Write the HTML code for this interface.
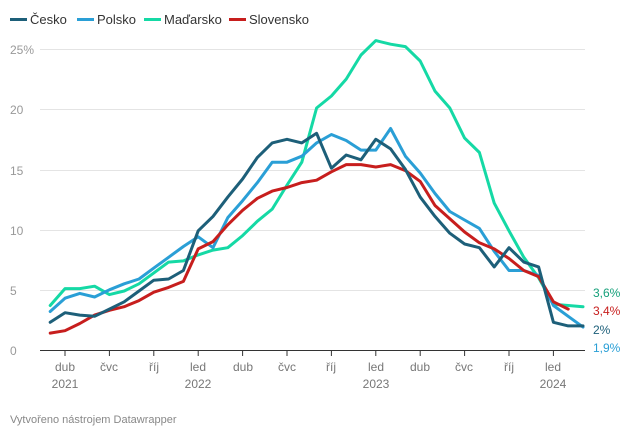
<!DOCTYPE html>
<html><head><meta charset="utf-8"><style>
body{margin:0;background:#fff;width:640px;height:437px;overflow:hidden;font-family:"Liberation Sans",sans-serif}
</style></head><body>
<svg id="s" width="640" height="437" xmlns="http://www.w3.org/2000/svg" font-family="Liberation Sans, sans-serif">
<g font-size="13" fill="#333">
<rect x="10" y="18" width="17" height="3" fill="#1d5f79"/><text x="30" y="24">Česko</text>
<rect x="77" y="18" width="17" height="3" fill="#2a9fd6"/><text x="97" y="24">Polsko</text>
<rect x="144" y="18" width="17" height="3" fill="#15d9a5"/><text x="164" y="24">Maďarsko</text>
<rect x="229" y="18" width="17" height="3" fill="#c71e1d"/><text x="249" y="24">Slovensko</text>
</g>
<g stroke="#e4e4e4" stroke-width="1">
<line x1="40" x2="585" y1="49.5" y2="49.5"/><line x1="40" x2="585" y1="109.5" y2="109.5"/>
<line x1="40" x2="585" y1="170.5" y2="170.5"/><line x1="40" x2="585" y1="230.5" y2="230.5"/>
<line x1="40" x2="585" y1="290.5" y2="290.5"/>
</g>
<g font-size="12" fill="#999">
<text x="10" y="54">25%</text><text x="10" y="114">20</text><text x="10" y="175">15</text>
<text x="10" y="235">10</text><text x="10" y="295">5</text><text x="10" y="355">0</text>
</g>
<line x1="40" x2="585" y1="350.5" y2="350.5" stroke="#333" stroke-width="1"/>
<g id="ticks" stroke="#333"></g>
<g font-size="12" fill="#777" text-anchor="middle">
<text x="65" y="371">dub</text><text x="65" y="388">2021</text>
<text x="109" y="371">čvc</text><text x="154" y="371">říj</text>
<text x="198" y="371">led</text><text x="198" y="388">2022</text>
<text x="243" y="371">dub</text><text x="287" y="371">čvc</text><text x="331" y="371">říj</text>
<text x="376" y="371">led</text><text x="376" y="388">2023</text>
<text x="420" y="371">dub</text><text x="464" y="371">čvc</text><text x="509" y="371">říj</text>
<text x="553" y="371">led</text><text x="553" y="388">2024</text>
</g>
<g id="lines" fill="none" stroke-width="3" stroke-linejoin="round" stroke-linecap="round"></g>
<g font-size="12">
<text x="593" y="297" fill="#15a07a">3,6%</text>
<text x="593" y="315" fill="#c71e1d">3,4%</text>
<text x="593" y="334" fill="#1d5f79">2%</text>
<text x="593" y="352" fill="#2a9fd6">1,9%</text>
</g>
<text x="10" y="423" font-size="11" fill="#888">Vytvořeno nástrojem Datawrapper</text>
</svg>
<script>
var X=function(i){return 50.2+14.8*i},Y=function(v){return 350-v*12.04};
var d={
"#15d9a5":[3.7,5.1,5.1,5.3,4.6,4.9,5.5,6.4,7.3,7.4,7.9,8.3,8.5,9.5,10.7,11.7,13.7,15.6,20.1,21.1,22.5,24.5,25.7,25.4,25.2,24.0,21.5,20.1,17.6,16.4,12.2,9.9,7.7,6.0,3.8,3.7,3.6],
"#2a9fd6":[3.2,4.3,4.7,4.4,5.0,5.5,5.9,6.8,7.7,8.6,9.4,8.5,11.0,12.4,13.9,15.6,15.6,16.1,17.2,17.9,17.4,16.6,16.6,18.4,16.1,14.7,13.0,11.5,10.8,10.1,8.2,6.6,6.6,6.2,3.7,2.8,1.9],
"#c71e1d":[1.4,1.6,2.2,2.9,3.3,3.6,4.1,4.8,5.2,5.7,8.4,9.0,10.4,11.6,12.6,13.2,13.5,13.9,14.1,14.8,15.4,15.4,15.2,15.4,14.9,14.0,12.0,10.9,9.8,8.9,8.4,7.6,6.6,6.1,4.0,3.4],
"#1d5f79":[2.3,3.1,2.9,2.8,3.4,4.0,4.9,5.8,5.9,6.6,9.9,11.1,12.7,14.2,16.0,17.2,17.5,17.2,18.0,15.1,16.2,15.8,17.5,16.7,15.0,12.7,11.1,9.7,8.8,8.5,6.9,8.5,7.3,6.9,2.3,2.0,2.0]};
var g=document.getElementById("lines"),s="";
for(var c in d){var p=d[c].map(function(v,i){return X(i).toFixed(1)+","+Y(v).toFixed(1)});
 s+='<polyline stroke="'+c+'" points="'+p.join(" ")+'"/>';}
g.innerHTML=s;
var t="";for(var i=0;i<13;i++){var x=65+44.4*i;if(x>586)break;t+='<line x1="'+x+'" x2="'+x+'" y1="350" y2="356"/>';}
document.getElementById("ticks").innerHTML=t;
</script>
</body></html>
